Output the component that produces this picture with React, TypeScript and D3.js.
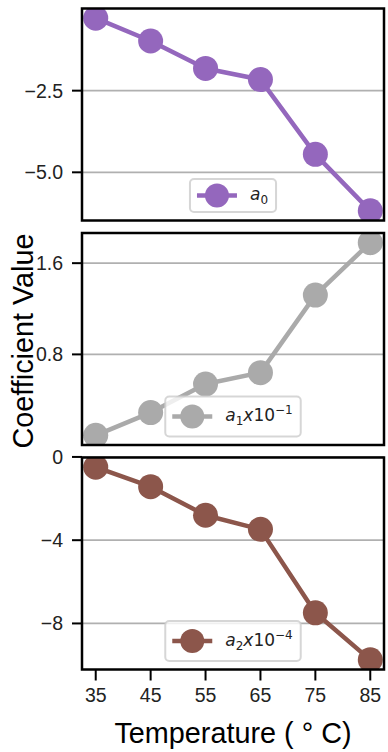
import React, { useEffect, useRef } from 'react';
import * as d3 from 'd3';

// data
const temps = [35, 45, 55, 65, 75, 85];
const a0Values = [-0.28, -0.98, -1.82, -2.16, -4.45, -6.18];
const a1Values = [0.09, 0.29, 0.54, 0.64, 1.32, 1.78];
const a2Values = [-0.49, -1.43, -2.8, -3.48, -7.49, -9.75];

const a0Ticks = [-2.5, -5.0];
const a1Ticks = [0.8, 1.6];
const a2Ticks = [0, -4, -8];
const xTicks = [35, 45, 55, 65, 75, 85];

// legend text pieces: [text, kind]
const a0Label = [['a', 'i'], ['0', 'sub']];
const a1Label = [['a', 'i'], ['1', 'sub'], ['x', 'i'], ['10', 'n'], ['\u22121', 'sup']];
const a2Label = [['a', 'i'], ['2', 'sub'], ['x', 'i'], ['10', 'n'], ['\u22124', 'sup']];

const W = 388;
const H = 752;
const left = 82;
const right = 384;
const panelTops = [8.5, 233, 457.5];
const panelH = 212;
const font = '"Liberation Sans", Arial, sans-serif';

const panels = [
  { values: a0Values, ticks: a0Ticks, fmt: d3.format('.1f'), color: '#9467bd', label: a0Label },
  { values: a1Values, ticks: a1Ticks, fmt: d3.format('.1f'), color: '#aaaaaa', label: a1Label },
  { values: a2Values, ticks: a2Ticks, fmt: d3.format('d'), color: '#8c564b', label: a2Label },
];

// matplotlib style 5% padding
function padded(vals: number[]): [number, number] {
  const [lo, hi] = d3.extent(vals) as [number, number];
  const m = (hi - lo) * 0.05;
  return [lo - m, hi + m];
}

export default function App() {
  const ref = useRef<SVGSVGElement>(null);

  useEffect(() => {
    const svg = d3.select(ref.current);
    svg.selectAll('*').remove();

    const w = right - left;
    const x = d3.scaleLinear().domain(padded(temps)).range([0, w]);

    panels.forEach((p, i) => {
      const y = d3.scaleLinear().domain(padded(p.values)).range([panelH, 0]);
      const g = svg.append('g').attr('transform', `translate(${left},${panelTops[i]})`);

      const clipId = `clip${i}`;
      g.append('clipPath').attr('id', clipId)
        .append('rect').attr('width', w).attr('height', panelH);

      // grid
      g.selectAll('.grid').data(p.ticks).enter()
        .append('line')
        .attr('x1', 0).attr('x2', w)
        .attr('y1', d => y(d)).attr('y2', d => y(d))
        .attr('stroke', '#b0b0b0').attr('stroke-width', 1.8);

      const plot = g.append('g').attr('clip-path', `url(#${clipId})`);
      const line = d3.line<number>().x((d, j) => x(temps[j])).y(d => y(d));
      plot.append('path').datum(p.values)
        .attr('d', line)
        .attr('fill', 'none')
        .attr('stroke', p.color)
        .attr('stroke-width', 4.5)
        .attr('stroke-linejoin', 'round');
      plot.selectAll('circle').data(p.values).enter()
        .append('circle')
        .attr('cx', (d, j) => x(temps[j]))
        .attr('cy', d => y(d))
        .attr('r', 12.5)
        .attr('fill', p.color);

      // y ticks
      const yt = g.selectAll('.yt').data(p.ticks).enter().append('g')
        .attr('transform', d => `translate(0,${y(d)})`);
      yt.append('line').attr('x1', -10).attr('x2', 0).attr('stroke', '#000').attr('stroke-width', 2);
      yt.append('text')
        .attr('x', -19).attr('dy', '0.36em')
        .attr('text-anchor', 'end')
        .style('font-family', font).style('font-size', '19.5px')
        .attr('fill', '#222')
        .text(d => p.fmt(d));

      // legend
      const lg = g.append('g');
      const hasSup = p.label.some(s => s[1] === 'sup');
      const boxH = hasSup ? 40 : 33;
      const boxBottom = panelH - 8.5;
      const cy = boxBottom - boxH / 2;
      const box = lg.append('rect');
      const txt = lg.append('text')
        .attr('y', cy + 4.5)
        .style('font-family', '"DejaVu Sans", sans-serif')
        .style('font-size', '17px')
        .attr('fill', '#222');
      let shift = 0;
      p.label.forEach(([s, kind]) => {
        const target = kind === 'sub' ? 4 : kind === 'sup' ? -7 : 0;
        txt.append('tspan')
          .attr('dy', target - shift)
          .style('font-style', kind === 'i' ? 'italic' : 'normal')
          .style('font-size', kind === 'sub' || kind === 'sup' ? '12px' : '17px')
          .text(s);
        shift = target;
      });
      const tw = (txt.node() as SVGTextElement).getComputedTextLength();
      const boxW = 7 + 40 + 13 + tw + 8;
      const bx = w / 2 - boxW / 2;
      box.attr('x', bx).attr('y', boxBottom - boxH)
        .attr('width', boxW).attr('height', boxH)
        .attr('rx', 4)
        .attr('fill', '#fff').attr('fill-opacity', 0.8)
        .attr('stroke', '#cccccc').attr('stroke-opacity', 0.8).attr('stroke-width', 2);
      txt.attr('x', bx + 60);
      lg.append('line')
        .attr('x1', bx + 7).attr('x2', bx + 47)
        .attr('y1', cy).attr('y2', cy)
        .attr('stroke', p.color).attr('stroke-width', 4.5);
      lg.append('circle').attr('cx', bx + 27).attr('cy', cy).attr('r', 12).attr('fill', p.color);

      // frame
      g.append('rect')
        .attr('width', w).attr('height', panelH)
        .attr('fill', 'none').attr('stroke', '#000').attr('stroke-width', 2.5);

      if (i === panels.length - 1) {
        const xt = g.selectAll('.xt').data(xTicks).enter().append('g')
          .attr('transform', d => `translate(${x(d)},${panelH})`);
        xt.append('line').attr('y1', 0).attr('y2', 11).attr('stroke', '#000').attr('stroke-width', 2);
        xt.append('text')
          .attr('y', 32.5)
          .attr('text-anchor', 'middle')
          .style('font-family', font).style('font-size', '19.5px')
          .attr('fill', '#222')
          .text(d => d);
      }
    });

    // axis labels
    svg.append('text')
      .attr('x', (left + right) / 2).attr('y', 743)
      .attr('text-anchor', 'middle')
      .style('font-family', font).style('font-size', '28.8px')
      .text('Temperature ( \u00b0 C)');

    const midY = (panelTops[0] + panelTops[2] + panelH) / 2;
    svg.append('text')
      .attr('transform', `translate(33,${midY + 2}) rotate(-90)`)
      .attr('text-anchor', 'middle')
      .style('font-family', font).style('font-size', '28.8px')
      .text('Coefficient Value');
  }, []);

  return (
    <svg
      ref={ref}
      width={W}
      height={H}
      style={{ position: 'absolute', left: 0, top: 0, background: '#fff' }}
    />
  );
}
